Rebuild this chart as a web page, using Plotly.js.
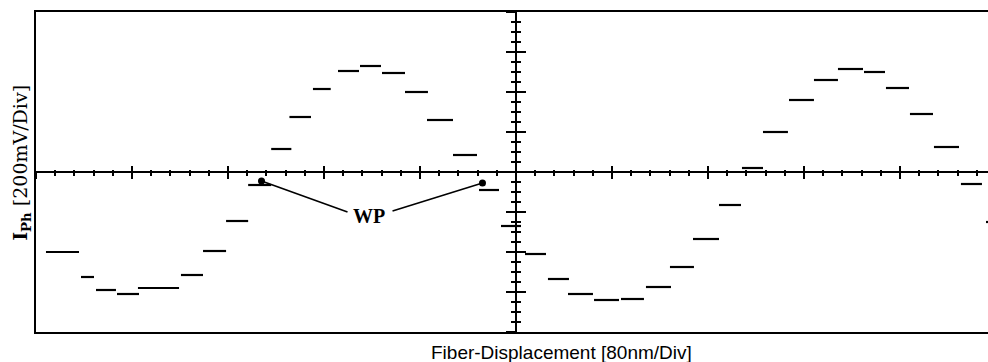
<!DOCTYPE html>
<html>
<head>
<meta charset="utf-8">
<script src="https://cdn.plot.ly/plotly-3.0.1.min.js"></script>
<style>html,body{margin:0;padding:0;background:#fff;}#chart{width:988px;height:362px;}</style>
</head>
<body>
<div id="chart"></div>
<script>
// Step segments of the measured photocurrent (x in divisions, level in divisions)
const segStart = [-4.896,-4.531,-4.375,-4.156,-3.938,-3.490,-3.260,-3.020,-2.790,-2.550,-2.360,-2.115,-1.854,-1.625,-1.396,-1.156,-0.927,-0.656,-0.385,-0.156,0.094,0.333,0.542,0.813,1.094,1.354,1.604,1.844,2.115,2.354,2.573,2.844,3.104,3.354,3.625,3.854,4.104,4.354,4.635,4.896];
const segEnd   = [-4.552,-4.396,-4.167,-3.927,-3.510,-3.260,-3.020,-2.790,-2.550,-2.340,-2.135,-1.930,-1.635,-1.406,-1.156,-0.917,-0.656,-0.406,-0.177,0.052,0.313,0.552,0.802,1.073,1.333,1.615,1.854,2.115,2.344,2.573,2.833,3.104,3.354,3.615,3.844,4.094,4.344,4.615,4.854,4.950];
const segLevel = [-2.000,-2.625,-2.950,-3.050,-2.900,-2.575,-1.975,-1.225,-0.325,0.575,1.375,2.075,2.525,2.650,2.475,2.000,1.300,0.425,-0.450,-1.350,-2.050,-2.675,-3.050,-3.200,-3.175,-2.875,-2.375,-1.675,-0.825,0.100,1.000,1.800,2.300,2.575,2.500,2.100,1.450,0.625,-0.300,-1.250];
// Working points (WP)
const wpX = [-2.651, -0.349];
const wpY = [-0.225, -0.275];
const wpLabel = "WP";
const xTitle = "Fiber-Displacement [80nm/Div]";
const yTitle = "<b>I</b><sub><b>Ph</b></sub> [200mV/Div]";

const xs = [], ys = [];
for (let i = 0; i < segStart.length; i++) {
  xs.push(segStart[i], segEnd[i], null);
  ys.push(segLevel[i], segLevel[i], null);
}

const XR = [-5, 4.917], YR = [-4, 4];
const traces = [
  {x: xs, y: ys, mode: 'lines', line: {color: '#000', width: 2.2}, hoverinfo: 'skip', showlegend: false, connectgaps: false},
  {x: wpX, y: wpY, mode: 'markers', marker: {color: '#000', size: 7}, hoverinfo: 'skip', showlegend: false},
  {x: [null], y: [null], xaxis: 'x2', yaxis: 'y2', mode: 'markers', showlegend: false},
  {x: [null], y: [null], xaxis: 'x3', yaxis: 'y3', mode: 'markers', showlegend: false}
];

const base = {showgrid: false, zeroline: false, showticklabels: false, fixedrange: true};
const cx = (0 - XR[0]) / (XR[1] - XR[0]);
const layout = {
  width: 988, height: 362,
  margin: {l: 36, r: 0, t: 12, b: 30, pad: 0},
  paper_bgcolor: '#fff', plot_bgcolor: '#fff',
  showlegend: false,
  xaxis: Object.assign({}, base, {range: XR, showline: true, mirror: true, linewidth: 2, linecolor: '#000', ticks: ''}),
  yaxis: Object.assign({}, base, {range: YR, showline: true, mirror: false, linewidth: 2, linecolor: '#000', ticks: ''}),
  xaxis2: Object.assign({}, base, {range: XR, overlaying: 'x', anchor: 'free', position: 0.5, showline: true, linewidth: 2, linecolor: '#000',
    ticks: 'outside', tickmode: 'linear', tick0: 0, dtick: 1, ticklen: 6, tickwidth: 2, tickcolor: '#000',
    minor: {ticks: 'outside', tickmode: 'linear', tick0: 0, dtick: 0.2, ticklen: 2.5, tickwidth: 2, tickcolor: '#000'}}),
  xaxis3: Object.assign({}, base, {range: XR, overlaying: 'x', anchor: 'free', position: 0.5, showline: false,
    ticks: 'inside', tickmode: 'linear', tick0: 0, dtick: 1, ticklen: 6, tickwidth: 2, tickcolor: '#000',
    minor: {ticks: 'inside', tickmode: 'linear', tick0: 0, dtick: 0.2, ticklen: 2.5, tickwidth: 2, tickcolor: '#000'}}),
  yaxis2: Object.assign({}, base, {range: YR, overlaying: 'y', anchor: 'free', position: cx, showline: true, linewidth: 2, linecolor: '#000',
    ticks: 'outside', tickmode: 'linear', tick0: 0, dtick: 1, ticklen: 9, tickwidth: 2, tickcolor: '#000',
    minor: {ticks: 'outside', tickmode: 'linear', tick0: 0, dtick: 0.25, ticklen: 4, tickwidth: 2, tickcolor: '#000'}}),
  yaxis3: Object.assign({}, base, {range: YR, overlaying: 'y', anchor: 'free', position: cx, showline: false,
    ticks: 'inside', tickmode: 'linear', tick0: 0, dtick: 1, ticklen: 9, tickwidth: 2, tickcolor: '#000',
    minor: {ticks: 'inside', tickmode: 'linear', tick0: 0, dtick: 0.25, ticklen: 4, tickwidth: 2, tickcolor: '#000'}}),
  shapes: [
    {type: 'line', xref: 'x', yref: 'y', x0: wpX[0], y0: wpY[0], x1: -1.755, y1: -1.0, line: {color: '#000', width: 1.6}},
    {type: 'line', xref: 'x', yref: 'y', x0: -1.286, y0: -0.975, x1: wpX[1], y1: wpY[1], line: {color: '#000', width: 1.6}}
  ],
  annotations: [
    {text: '<b>' + wpLabel + '</b>', xref: 'x', yref: 'y', x: -1.53, y: -1.09, showarrow: false, xanchor: 'center', yanchor: 'middle',
     font: {family: 'Liberation Serif, serif', size: 20, color: '#000'}},
    {text: yTitle, xref: 'paper', yref: 'paper', x: -0.016, y: 0.528, textangle: -90, showarrow: false, xanchor: 'center', yanchor: 'middle',
     font: {family: 'DejaVu Serif, serif', size: 19, color: '#000'}},
    {text: xTitle, xref: 'paper', yref: 'paper', x: 0.5525, y: -0.063, showarrow: false, xanchor: 'center', yanchor: 'middle',
     font: {family: 'Liberation Sans, sans-serif', size: 19, color: '#000'}}
  ]
};

Plotly.newPlot('chart', traces, layout, {staticPlot: true, displayModeBar: false});
</script>
</body>
</html>
